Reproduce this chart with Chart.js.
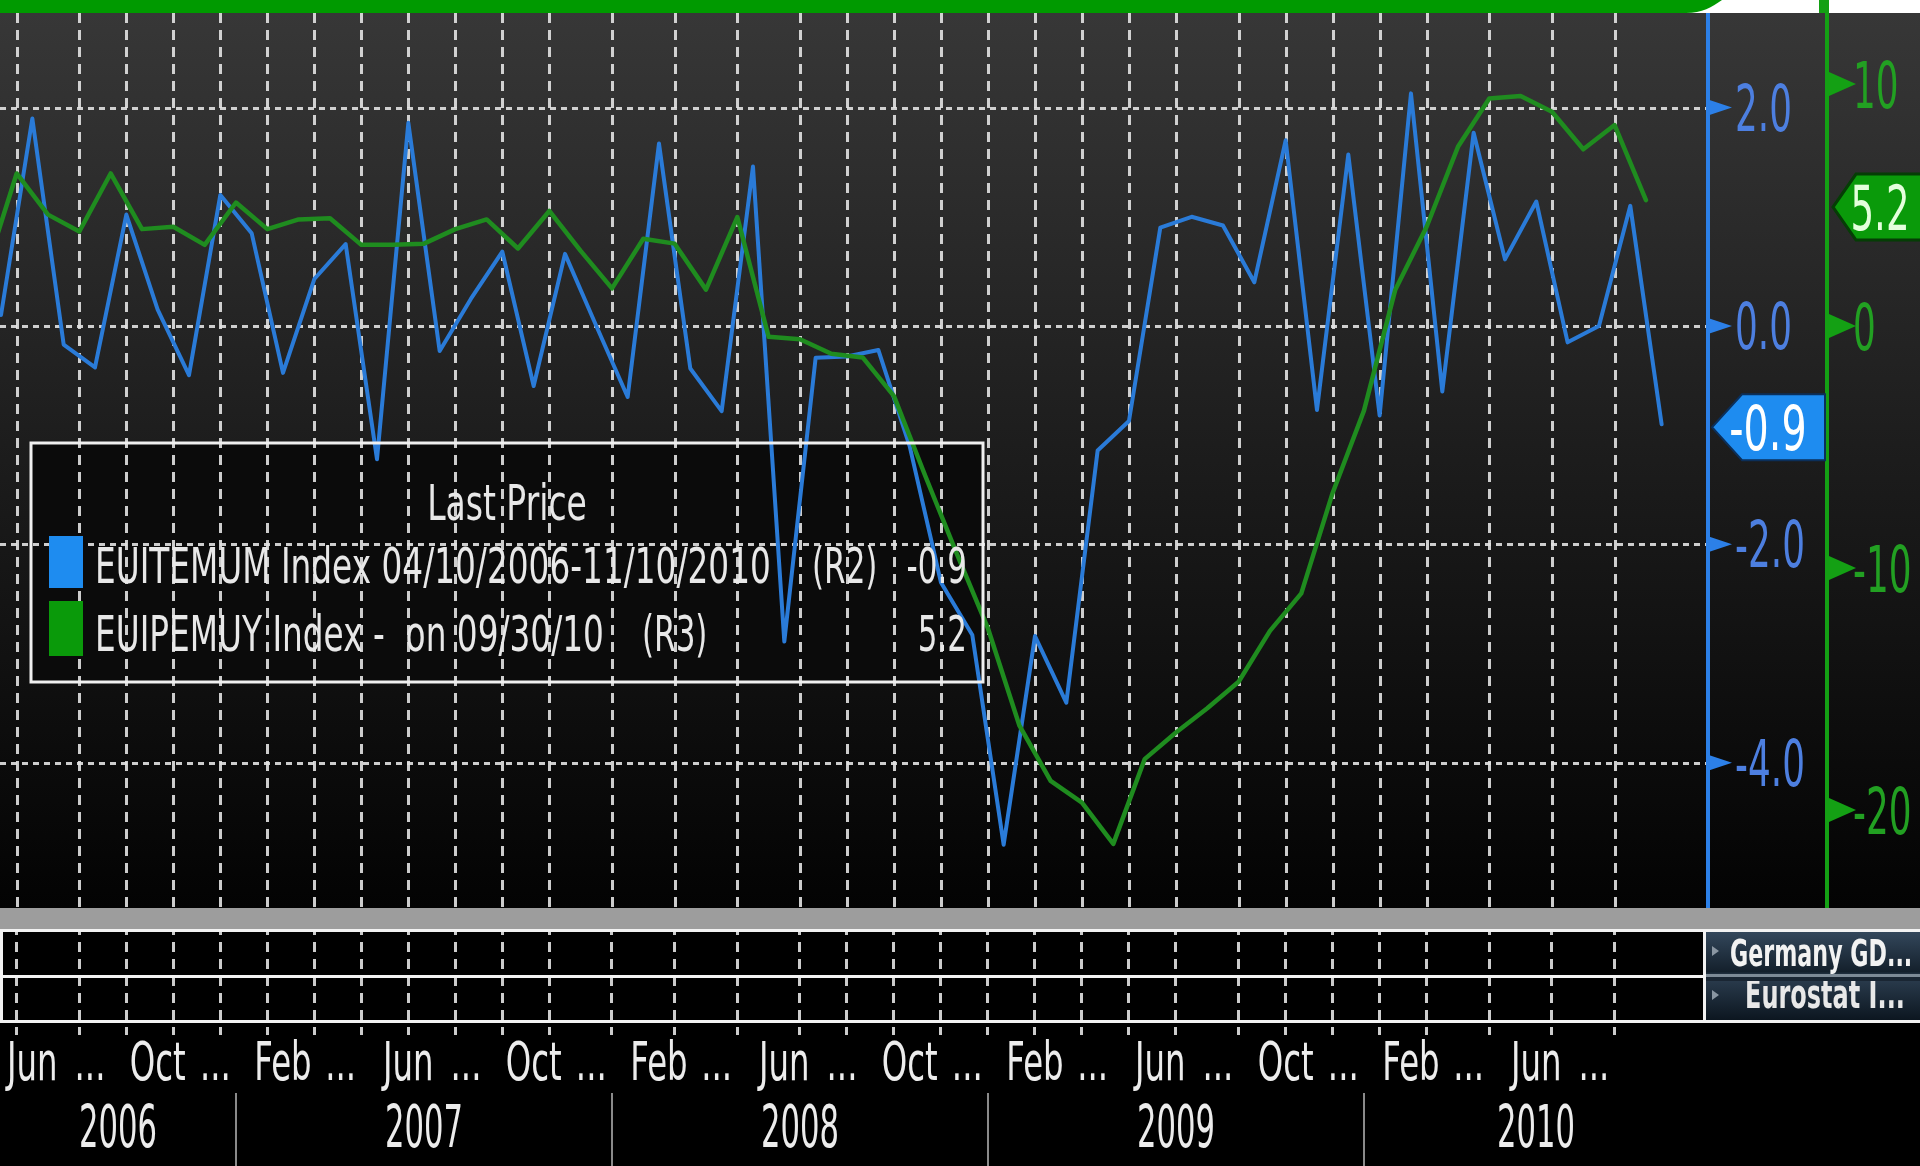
<!DOCTYPE html>
<html>
<head>
<meta charset="utf-8">
<script src="https://cdn.jsdelivr.net/npm/chart.js@4.4.1/dist/chart.umd.min.js"></script>
<style>
html,body{margin:0;padding:0;background:#fff;overflow:hidden;}
#wrap{width:1920px;height:1166px;position:relative;}
canvas{display:block;}
</style>
</head>
<body>
<div id="wrap"><canvas id="c" width="1920" height="1166"></canvas></div>
<script>
// ---------------- DATA ----------------
// EUITEMUM Index (R2) – monthly, plotted mid-month
const blueMonths = [
 '2006-05','2006-06','2006-07','2006-08','2006-09','2006-10','2006-11','2006-12',
 '2007-01','2007-02','2007-03','2007-04','2007-05','2007-06','2007-07','2007-08','2007-09','2007-10','2007-11','2007-12',
 '2008-01','2008-02','2008-03','2008-04','2008-05','2008-06','2008-07','2008-08','2008-09','2008-10','2008-11','2008-12',
 '2009-01','2009-02','2009-03','2009-04','2009-05','2009-06','2009-07','2009-08','2009-09','2009-10','2009-11','2009-12',
 '2010-01','2010-02','2010-03','2010-04','2010-05','2010-06','2010-07','2010-08','2010-09','2010-10'];
const blueValues = [
 0.1, 1.9, -0.17, -0.38, 1.02, 0.15, -0.45, 1.2,
 0.85, -0.43, 0.43, 0.75, -1.22, 1.86, -0.23, 0.25, 0.68, -0.55, 0.66, 0.0,
 -0.65, 1.67, -0.39, -0.78, 1.46, -2.89, -0.29, -0.28, -0.22, -1.1, -2.35, -2.83,
 -4.75, -2.84, -3.45, -1.14, -0.87, 0.9, 1.0, 0.92, 0.4, 1.7, -0.77, 1.57,
 -0.82, 2.13, -0.6, 1.77, 0.61, 1.14, -0.15, 0.0, 1.1, -0.9];

// EUIPEMUY Index (R3) – monthly, plotted at month end
const greenMonths = [
 '2006-04','2006-05','2006-06','2006-07','2006-08','2006-09','2006-10','2006-11','2006-12',
 '2007-01','2007-02','2007-03','2007-04','2007-05','2007-06','2007-07','2007-08','2007-09','2007-10','2007-11','2007-12',
 '2008-01','2008-02','2008-03','2008-04','2008-05','2008-06','2008-07','2008-08','2008-09','2008-10','2008-11','2008-12',
 '2009-01','2009-02','2009-03','2009-04','2009-05','2009-06','2009-07','2009-08','2009-09','2009-10','2009-11','2009-12',
 '2010-01','2010-02','2010-03','2010-04','2010-05','2010-06','2010-07','2010-08','2010-09'];
const greenValues = [
 2.2, 6.3, 4.6, 3.9, 6.3, 4.0, 4.1, 3.35, 5.1,
 4.0, 4.4, 4.45, 3.35, 3.35, 3.4, 4.0, 4.4, 3.2, 4.75, 3.1, 1.55,
 3.6, 3.4, 1.5, 4.5, -0.45, -0.55, -1.15, -1.3, -2.9, -6.2, -9.4, -12.5,
 -16.5, -18.8, -19.7, -21.4, -17.9, -16.8, -15.8, -14.7, -12.6, -11.05, -6.9, -3.5,
 1.5, 4.1, 7.4, 9.4, 9.5, 8.85, 7.3, 8.3, 5.2];

const blueTicks = [2, 0, -2, -4];
const greenTicks = [10, 0, -10, -20];

// vertical grid positions (months since Jan 2006)
const gridMonths = [5,7,8.5,10,11.5,13,14.5,16,17.5,19,20.5,22,24,26,28,30,31.5,33,34.5,36,37.5,39,40.5,42,44,45.5,47,48.5,50,52,54,56];

const monthTickDates = ['2006-06','2006-08','2006-10','2006-12','2007-02','2007-04','2007-06','2007-08','2007-10','2007-12',
 '2008-02','2008-04','2008-06','2008-08','2008-10','2008-12','2009-02','2009-04','2009-06','2009-08','2009-10','2009-12',
 '2010-02','2010-04','2010-06','2010-08'];
const monthTickLabels = ['Jun','...','Oct','...','Feb','...','Jun','...','Oct','...','Feb','...','Jun','...','Oct','...',
 'Feb','...','Jun','...','Oct','...','Feb','...','Jun','...'];
const yearLabels = ['2006','2007','2008','2009','2010'];

const seriesNames = ['EUITEMUM Index 04/10/2006-11/10/2010', 'EUIPEMUY Index -  on 09/30/10'];
const seriesAxes = ['(R2)', '(R3)'];
const legendTitle = 'Last Price';
const panelLabels = ['Germany GD...', 'Eurostat I...'];

// ---------------- HELPERS ----------------
function monthIndex(s){ const [y,m]=s.split('-').map(Number); return (y-2006)*12 + (m-1); }
const X_MIN = 4.468, X_MAX = 58.98;
const BLUE = '#2a7bd8', GREEN = '#1f8c1f';
const FONT = '"DejaVu Sans", Verdana, sans-serif';
const GRIDC = 'rgba(226,226,226,0.9)';

function T(ctx, s, x, y, size, sx, align, color, weight){
  ctx.save();
  ctx.font = (weight||'normal') + ' ' + size + 'px ' + FONT;
  ctx.fillStyle = color;
  ctx.textBaseline = 'alphabetic';
  ctx.textAlign = 'left';
  const w = ctx.measureText(s).width * sx;
  let x0 = x;
  if (align === 'center') x0 = x - w/2; else if (align === 'right') x0 = x - w;
  ctx.translate(x0, y); ctx.scale(sx, 1);
  ctx.fillText(s, 0, 0);
  ctx.restore();
  return w;
}

const LEG = {x:31, y:443, w:952, h:239};

const bgPlugin = {
  id: 'bg',
  beforeDraw(chart){
    const {ctx, chartArea: ca} = chart;
    const W = chart.width, H = chart.height;
    ctx.save();
    ctx.fillStyle = '#000'; ctx.fillRect(0,0,W,H);
    ctx.fillStyle = '#fff'; ctx.fillRect(0,0,W,ca.top);
    const g = ctx.createLinearGradient(0, ca.top, 0, ca.bottom);
    g.addColorStop(0,'#373737'); g.addColorStop(0.5,'#1c1c1c'); g.addColorStop(1,'#030303');
    ctx.fillStyle = g; ctx.fillRect(0, ca.top, W, ca.bottom - ca.top);
    // green title band with rounded end
    ctx.fillStyle = '#009a00';
    ctx.beginPath();
    ctx.moveTo(0,0); ctx.lineTo(1722,0);
    ctx.bezierCurveTo(1712, 7, 1702, ca.top, 1686, ca.top);
    ctx.lineTo(0, ca.top); ctx.closePath(); ctx.fill();
    // legend background (beneath grid + lines)
    ctx.fillStyle = '#0b0b0b';
    ctx.fillRect(LEG.x, LEG.y, LEG.w, LEG.h);
    ctx.restore();
  },
  beforeDatasetsDraw(chart){
    const {ctx, chartArea: ca} = chart;
    const xs = chart.scales.x, yB = chart.scales.yB;
    ctx.save();
    ctx.strokeStyle = GRIDC; ctx.lineWidth = 3; ctx.lineCap = 'butt';
    ctx.setLineDash([10, 7]);
    xs.ticks.forEach(t => {
      const x = Math.round(xs.getPixelForValue(t.value)) + 0.5;
      ctx.beginPath(); ctx.moveTo(x, ca.top); ctx.lineTo(x, ca.bottom); ctx.stroke();
    });
    ctx.setLineDash([6, 5]);
    yB.ticks.forEach(t => {
      const y = Math.round(yB.getPixelForValue(t.value)) + 0.5;
      ctx.beginPath(); ctx.moveTo(ca.left, y); ctx.lineTo(ca.right, y); ctx.stroke();
    });
    ctx.restore();
  },
  afterDraw(chart){
    const {ctx, chartArea: ca} = chart;
    const xs = chart.scales.x, yB = chart.scales.yB, yG = chart.scales.yG;
    const W = chart.width;
    ctx.save();
    // ---- lower strips ----
    ctx.fillStyle = '#9d9d9d'; ctx.fillRect(0, ca.bottom, W, 21);
    ctx.fillStyle = '#f2f2f2';
    ctx.fillRect(0, 929, W, 3);
    ctx.fillRect(0, 975, 1705, 3);
    ctx.fillRect(0, 1020, W, 3);
    ctx.fillRect(0, 929, 3, 92);
    // right panel
    const pg = ctx.createLinearGradient(0, 932, 0, 1020);
    pg.addColorStop(0,'#33475b'); pg.addColorStop(0.45,'#14202c'); pg.addColorStop(0.5,'#2c3e50'); pg.addColorStop(1,'#0c1620');
    ctx.fillStyle = pg; ctx.fillRect(1706, 932, W-1706, 88);
    T(ctx, panelLabels[0], 1730, 966, 37, 0.6, 'left', '#f2f2f2', 'bold');
    T(ctx, panelLabels[1], 1745, 1008, 40, 0.6, 'left', '#e8e8e8', 'bold');
    ctx.fillStyle = '#7d8a96'; ctx.fillRect(1706, 974, W-1706, 3);
    ctx.fillStyle = '#1a2633'; ctx.fillRect(1706, 977, W-1706, 4);
    ctx.fillStyle = '#f2f2f2'; ctx.fillRect(1703, 929, 3, 93);
    ctx.fillStyle = '#8a96a2';
    [951, 995].forEach(yy => { ctx.beginPath(); ctx.moveTo(1712, yy-5); ctx.lineTo(1719, yy); ctx.lineTo(1712, yy+5); ctx.fill(); });

    // ---- axis lines ----
    ctx.fillStyle = '#2c80e8'; ctx.fillRect(ca.right - 2, ca.top, 4, ca.bottom - ca.top);
    ctx.fillStyle = '#14a014'; ctx.fillRect(1825, 0, 4, ca.bottom); ctx.fillRect(1819, 0, 10, ca.top);

    // ---- blue axis ticks ----
    blueTicks.forEach(v => {
      const y = yB.getPixelForValue(v);
      ctx.fillStyle = '#2c80e8';
      ctx.beginPath(); ctx.moveTo(ca.right, y-8); ctx.lineTo(ca.right+24, y); ctx.lineTo(ca.right, y+8); ctx.closePath(); ctx.fill();
      T(ctx, v.toFixed(1), 1735, y + 23, 64, 0.56, 'left', '#4d7fe0');
    });
    // ---- green axis ticks ----
    greenTicks.forEach(v => {
      const y = yG.getPixelForValue(v);
      ctx.fillStyle = '#14a014';
      ctx.beginPath(); ctx.moveTo(1829, y-12); ctx.lineTo(1856, y); ctx.lineTo(1829, y+12); ctx.closePath(); ctx.fill();
      T(ctx, String(v), 1853, y + 24, 64, 0.56, 'left', '#22a022');
    });

    // ---- last value boxes ----
    const bLast = blueValues[blueValues.length-1];
    let y = yB.getPixelForValue(bLast) + 3;
    ctx.fillStyle = '#1e8cf0'; ctx.strokeStyle = '#0b2f5a'; ctx.lineWidth = 2;
    ctx.beginPath(); ctx.moveTo(1712, y); ctx.lineTo(1742, y-33); ctx.lineTo(1825, y-33); ctx.lineTo(1825, y+33); ctx.lineTo(1742, y+33); ctx.closePath(); ctx.fill(); ctx.stroke();
    T(ctx, bLast.toFixed(1), 1768, y + 23, 62, 0.64, 'center', '#ffffff');

    const gLast = greenValues[greenValues.length-1];
    y = yG.getPixelForValue(gLast) + 7;
    ctx.fillStyle = '#0a9a0a'; ctx.strokeStyle = '#053d05'; ctx.lineWidth = 3;
    ctx.beginPath(); ctx.moveTo(1833, y); ctx.lineTo(1856, y-33); ctx.lineTo(1925, y-33); ctx.lineTo(1925, y+33); ctx.lineTo(1856, y+33); ctx.closePath(); ctx.fill(); ctx.stroke();
    T(ctx, gLast.toFixed(1), 1880, y + 23, 62, 0.6, 'center', '#e4ffdc');

    // ---- legend ----
    ctx.strokeStyle = '#f0f0f0'; ctx.lineWidth = 3;
    ctx.strokeRect(LEG.x, LEG.y, LEG.w, LEG.h);
    const lc = '#e8e8e8';
    T(ctx, legendTitle, LEG.x + LEG.w/2, 520, 50, 0.66, 'center', lc);
    ctx.fillStyle = '#1e8cf0'; ctx.fillRect(49, 536, 34, 52);
    ctx.fillStyle = '#0a9a0a'; ctx.fillRect(49, 601, 34, 55);
    T(ctx, seriesNames[0], 95, 583, 50, 0.655, 'left', lc);
    T(ctx, seriesAxes[0], 812, 583, 50, 0.62, 'left', lc);
    T(ctx, bLast.toFixed(1), 967, 583, 50, 0.62, 'right', lc);
    T(ctx, seriesNames[1], 95, 651, 50, 0.655, 'left', lc);
    T(ctx, seriesAxes[1], 642, 651, 50, 0.62, 'left', lc);
    T(ctx, gLast.toFixed(1), 967, 651, 50, 0.62, 'right', lc);

    // ---- x labels ----
    monthTickDates.forEach((d, i) => {
      const x = xs.getPixelForValue(monthIndex(d) + 0.5);
      const lab = monthTickLabels[i];
      T(ctx, lab, lab === '...' ? x - 5 : x, 1080, 54, 0.6, 'center', '#ececec');
    });
    yearLabels.forEach(yr => {
      const s = (Number(yr) - 2006) * 12;
      const a = Math.max(s, xs.min), b = Math.min(s + 12, xs.max);
      T(ctx, yr, xs.getPixelForValue((a+b)/2), 1147, 59, 0.52, 'center', '#ececec');
      if (s > xs.min) {
        const x = Math.round(xs.getPixelForValue(s));
        ctx.fillStyle = '#8a8a8a'; ctx.fillRect(x-1, 1093, 2, 73);
      }
    });
    ctx.restore();
  }
};

new Chart(document.getElementById('c'), {
  type: 'line',
  data: {
    datasets: [
      { label: 'EUIPEMUY Index', yAxisID: 'yG',
        data: greenMonths.map((d,i) => ({x: monthIndex(d) + 1, y: greenValues[i]})),
        borderColor: GREEN, borderWidth: 4.5, pointRadius: 0, tension: 0,
        borderJoinStyle: 'round', borderCapStyle: 'round', fill: false },
      { label: 'EUITEMUM Index', yAxisID: 'yB',
        data: blueMonths.map((d,i) => ({x: monthIndex(d) + 0.5, y: blueValues[i]})),
        borderColor: BLUE, borderWidth: 4, pointRadius: 0, tension: 0,
        borderJoinStyle: 'round', borderCapStyle: 'round', fill: false }
    ]
  },
  options: {
    responsive: false, animation: false, devicePixelRatio: 1,
    layout: { padding: { left: 0, top: 13, right: 212, bottom: 131 } },
    plugins: { legend: { display: false }, tooltip: { enabled: false } },
    scales: {
      x: { type: 'linear', min: X_MIN, max: X_MAX, display: true,
        afterBuildTicks: s => { s.ticks = gridMonths.map(v => ({value: v})); },
        ticks: { display: false },
        border: { display: false },
        grid: { color: GRIDC, lineWidth: 3, drawOnChartArea: false, drawTicks: true, tickLength: 127,
                tickColor: GRIDC, tickWidth: 3, tickBorderDash: [10, 7] } },
      yB: { type: 'linear', position: 'right', min: -5.33, max: 2.866, display: true,
        afterBuildTicks: s => { s.ticks = blueTicks.map(v => ({value: v})); },
        ticks: { display: false },
        border: { display: false },
        grid: { color: GRIDC, lineWidth: 3, drawOnChartArea: false, drawTicks: false } },
      yG: { type: 'linear', position: 'right', min: -24.05, max: 12.93, display: false,
        grid: { drawOnChartArea: false } }
    }
  },
  plugins: [bgPlugin]
});
</script>
</body>
</html>
